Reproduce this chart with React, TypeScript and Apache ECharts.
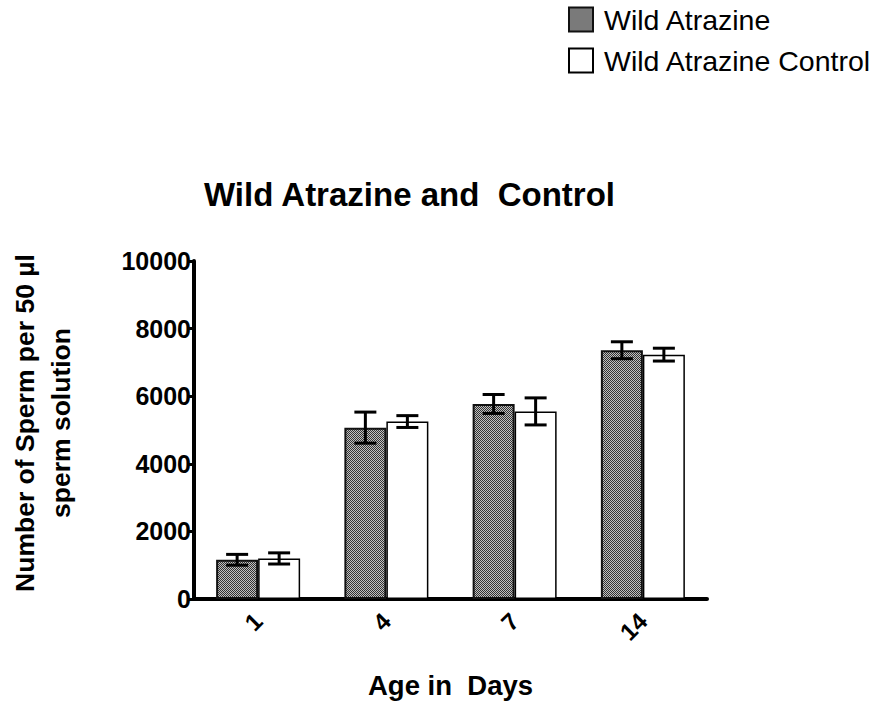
import React, { useEffect, useRef } from "react";
import * as echarts from "echarts";

const categories = ["1", "4", "7", "14"];
const wildAtrazine = [1160, 5070, 5770, 7360];
const wildAtrazineErr = [160, 460, 280, 250];
const wildControl = [1200, 5250, 5550, 7230];
const wildControlErr = [165, 175, 400, 190];
const yTicks = { min: 0, max: 10000, interval: 2000 };

const FONT = "'Liberation Sans', Arial, sans-serif";
const BAR_W = 42;

function makePattern(): string {
  const c = document.createElement("canvas");
  c.width = 4;
  c.height = 4;
  const ctx = c.getContext("2d")!;
  for (let i = 0; i < 4; i++) {
    for (let j = 0; j < 4; j++) {
      ctx.fillStyle = (i + j) % 2 === 0 ? "#333333" : "#c0c0c0";
      ctx.fillRect(i, j, 1, 1);
    }
  }
  return c.toDataURL();
}

function errorSeries(name: string, means: number[], errs: number[], offset: number) {
  return {
    type: "custom",
    name,
    z: 10,
    silent: true,
    data: means.map((m, i) => [i, m, errs[i]]),
    renderItem: (params: any, api: any) => {
      const idx = api.value(0);
      const m = api.value(1);
      const e = api.value(2);
      const top = api.coord([idx, m + e]);
      const bot = api.coord([idx, m - e]);
      const cx = top[0] + offset;
      const hw = 11;
      const st = { stroke: "#000", lineWidth: 3 };
      return {
        type: "group",
        children: [
          { type: "line", shape: { x1: cx, y1: top[1], x2: cx, y2: bot[1] }, style: st },
          { type: "line", shape: { x1: cx - hw, y1: top[1], x2: cx + hw, y2: top[1] }, style: st },
          { type: "line", shape: { x1: cx - hw, y1: bot[1], x2: cx + hw, y2: bot[1] }, style: st },
        ],
      };
    },
  };
}

export default function App() {
  const ref = useRef<HTMLDivElement>(null);
  useEffect(() => {
    if (!ref.current) return;
    const chart = echarts.init(ref.current, null, { renderer: "svg" });
    const pattern = {
      image: makePattern(),
      repeat: "repeat",
      imageWidth: 4,
      imageHeight: 4,
    };
    chart.setOption({
      animation: false,
      backgroundColor: "#fff",
      title: {
        text: "Wild Atrazine and  Control",
        left: 204,
        top: 178,
        padding: 0,
        textStyle: { fontFamily: FONT, fontSize: 33, fontWeight: "bold", color: "#000" },
      },
      legend: {
        orient: "vertical",
        left: 568,
        top: 5,
        padding: 0,
        itemWidth: 24,
        itemHeight: 24,
        itemGap: 12,
        icon: "rect",
        data: ["Wild Atrazine", "Wild Atrazine Control"],
        textStyle: { fontFamily: FONT, fontSize: 28.5, color: "#000", padding: [0, 0, 0, 6] },
      },
      grid: { left: 194, right: 167, top: 261, bottom: 108, containLabel: false },
      xAxis: {
        type: "category",
        data: categories,
        name: "Age in  Days",
        nameLocation: "middle",
        nameGap: 72,
        nameTextStyle: { fontFamily: FONT, fontSize: 27.5, fontWeight: "bold", color: "#000" },
        axisLine: { lineStyle: { color: "#000", width: 4 } },
        axisTick: { alignWithLabel: true, length: 7, lineStyle: { color: "#000", width: 3 } },
        axisLabel: {
          rotate: 45,
          margin: 18,
          fontFamily: FONT,
          fontSize: 24,
          fontWeight: "bold",
          color: "#000",
        },
      },
      yAxis: {
        type: "value",
        min: yTicks.min,
        max: yTicks.max,
        interval: yTicks.interval,
        splitLine: { show: false },
        axisLine: { show: true, lineStyle: { color: "#000", width: 4 } },
        axisTick: { show: true, length: 6, lineStyle: { color: "#000", width: 3 } },
        axisLabel: {
          margin: 3,
          formatter: (v: number) => String(v),
          fontFamily: FONT,
          fontSize: 25,
          fontWeight: "bold",
          color: "#000",
        },
      },
      graphic: [
        {
          type: "text",
          x: 43,
          y: 423,
          rotation: Math.PI / 2,
          style: {
            text: "Number of Sperm per 50 µl\nsperm solution",
            textAlign: "center",
            textVerticalAlign: "middle",
            font: `bold 26.5px ${FONT}`,
            lineHeight: 36,
            fill: "#000",
          },
        },
      ],
      series: [
        {
          type: "bar",
          name: "Wild Atrazine",
          data: wildAtrazine,
          barWidth: BAR_W,
          barGap: "0%",
          itemStyle: { color: pattern, borderColor: "#111", borderWidth: 2 },
        },
        {
          type: "bar",
          name: "Wild Atrazine Control",
          data: wildControl,
          barWidth: BAR_W,
          barGap: "0%",
          itemStyle: { color: "#fff", borderColor: "#000", borderWidth: 1.5 },
        },
        errorSeries("errA", wildAtrazine, wildAtrazineErr, -BAR_W / 2),
        errorSeries("errB", wildControl, wildControlErr, BAR_W / 2),
      ],
    });
    return () => chart.dispose();
  }, []);
  return (
    <div
      ref={ref}
      style={{ position: "absolute", left: 0, top: 0, width: 874, height: 707 }}
    />
  );
}
